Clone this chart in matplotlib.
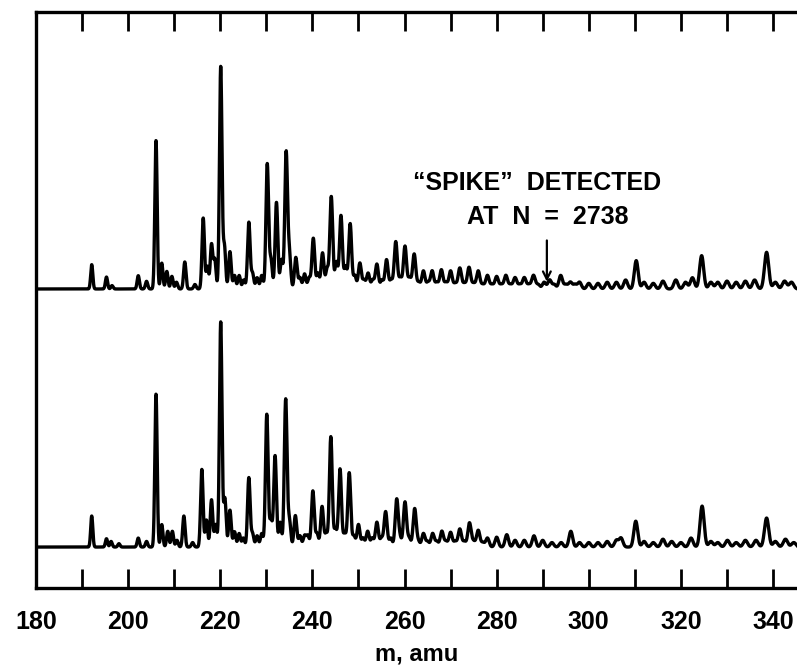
import matplotlib
matplotlib.use("Agg")
import matplotlib.pyplot as plt
import numpy as np

# peak positions (amu) and heights (percent of base peak)
top_mz = [192.1, 195.3, 196.5, 202.2, 204.0, 206.05, 207.3, 208.4, 209.5, 210.5,
          212.3, 214.5, 216.3, 217.2, 218.1, 218.8, 220.1, 220.9, 222.1, 223.1,
          224.1, 225.1, 226.2, 227.0, 228.0, 229.0, 230.2, 231.0, 232.2, 233.3,
          234.3, 235.0, 236.4, 237.3, 238.3, 239.3, 240.2, 241.2, 242.2, 243.2,
          244.1, 245.2, 246.2, 247.2, 248.2, 249.2, 250.3, 251.2, 252.1, 253.1,
          254.0, 255.1, 256.1, 257.1, 258.1, 259.1, 260.1, 261.1, 262.1, 263.1,
          264.1, 265.1, 266.0, 267.0, 268.0, 269.0, 270.0, 271.0, 272.0, 273.0,
          274.0, 275.0, 276.0, 277.0, 278.0, 279.0, 280.0, 281.0, 282.0, 283.0,
          284.0, 285.0, 286.0, 287.0, 288.0, 289.0, 290.3, 291.5, 292.5, 293.9,
          295.0, 296.0, 297.0, 298.0, 300.0, 302.0, 304.0, 306.0, 308.0, 310.3,
          312.0, 314.0, 316.1, 318.9, 321.0, 322.5, 324.5, 326.5, 328.0, 330.0,
          332.0, 334.0, 336.0, 338.6, 340.5, 342.5, 344.0]
top_int = [10.8, 5.3, 1.5, 5.9, 3.4, 66.0, 11.5, 7.8, 5.6, 3.0,
           12.0, 2.0, 31.5, 10.0, 19.7, 13.0, 98.7, 19.0, 16.6, 6.0,
           6.0, 4.0, 29.6, 7.0, 5.0, 6.0, 55.5, 13.0, 38.5, 13.0,
           60.4, 16.0, 14.0, 5.0, 6.7, 5.0, 22.5, 7.0, 16.0, 9.0,
           41.0, 12.0, 32.6, 10.0, 29.0, 6.0, 11.5, 4.0, 7.0, 4.0,
           11.0, 4.0, 13.0, 4.0, 21.0, 5.0, 19.0, 5.0, 15.5, 3.0,
           8.0, 3.0, 8.0, 3.0, 8.5, 3.0, 8.0, 2.5, 9.3, 2.5,
           9.6, 2.5, 8.0, 2.0, 6.0, 2.0, 5.5, 2.0, 6.0, 2.0,
           5.0, 2.0, 5.0, 2.0, 6.0, 2.0, 3.0, 4.0, 2.0, 6.0,
           2.0, 3.0, 2.0, 3.0, 2.5, 2.5, 3.0, 3.0, 4.0, 12.6,
           3.0, 2.5, 3.5, 4.0, 3.0, 5.0, 14.8, 3.0, 3.0, 3.5,
           3.0, 3.5, 4.0, 16.3, 3.0, 3.5, 3.0]

bottom_mz = [192.1, 195.3, 196.3, 198.0, 202.2, 204.0, 206.05, 207.3, 208.6, 209.6,
             210.6, 212.1, 214.0, 216.0, 217.0, 218.1, 219.0, 220.1, 221.0, 222.1,
             223.1, 224.1, 225.0, 226.2, 227.0, 228.0, 229.0, 230.1, 231.0, 231.9,
             233.0, 234.2, 235.0, 236.3, 237.3, 238.3, 239.0, 240.1, 241.0, 242.1,
             243.0, 244.0, 245.0, 246.0, 247.0, 248.0, 249.0, 250.0, 251.0, 252.0,
             253.0, 254.0, 255.0, 255.9, 257.0, 258.3, 259.0, 260.1, 261.0, 262.2,
             263.0, 264.1, 265.0, 266.1, 267.0, 268.1, 269.0, 270.0, 271.0, 272.0,
             273.0, 274.1, 275.0, 276.0, 277.0, 278.0, 280.0, 282.2, 284.0, 286.0,
             288.1, 290.0, 292.0, 294.0, 296.1, 298.0, 300.0, 302.0, 304.0, 306.0,
             307.0, 310.2, 312.0, 314.0, 316.1, 318.0, 320.0, 322.2, 324.6, 326.5,
             328.0, 330.1, 332.0, 334.0, 336.3, 338.6, 340.5, 342.7, 344.5]
bottom_int = [13.8, 3.7, 2.5, 1.5, 4.0, 2.5, 68.0, 10.0, 7.0, 7.0,
              3.0, 13.8, 2.0, 34.5, 12.0, 21.0, 10.0, 100.0, 21.6, 16.4,
              6.8, 6.0, 4.0, 30.8, 6.0, 5.0, 6.0, 59.0, 12.0, 40.6,
              11.0, 65.6, 12.0, 14.0, 5.0, 5.0, 5.0, 24.9, 6.0, 18.0,
              6.0, 49.0, 8.0, 34.7, 6.0, 33.0, 5.0, 10.0, 4.0, 7.0,
              4.0, 11.0, 4.0, 15.7, 4.0, 21.0, 4.0, 20.0, 4.0, 17.0,
              2.5, 6.0, 2.5, 6.0, 2.5, 7.0, 2.5, 6.5, 2.5, 8.0,
              2.5, 10.7, 2.5, 7.4, 2.0, 4.0, 4.4, 5.5, 3.0, 3.0,
              5.0, 3.0, 2.0, 2.0, 7.0, 2.0, 2.0, 2.0, 2.5, 3.0,
              4.0, 11.5, 2.5, 2.0, 3.5, 2.5, 2.0, 4.0, 18.2, 2.5,
              2.0, 3.0, 2.0, 3.0, 3.0, 12.9, 2.5, 3.5, 2.0]

top_offset = 114.7
spike_mz = 290.9
tick_labels = ["180", "200", "220", "240", "260", "280", "300", "320", "340"]


def trace(mz, inten, grid):
    y = np.zeros_like(grid)
    for m, h in zip(mz, inten):
        s = 0.24 + (m - 200) * 0.0016   # peaks broaden with mass
        y += h * np.exp(-0.5 * ((grid - m) / s) ** 2)
    return y


grid = np.linspace(180, 346, 6000)

fig = plt.figure(figsize=(7.97, 6.69), dpi=100)
ax = fig.add_axes([36 / 797, 81 / 669, 761 / 797, 576 / 669])

ax.plot(grid, trace(bottom_mz, bottom_int, grid), color="black", lw=2.4)
ax.plot(grid, trace(top_mz, top_int, grid) + top_offset, color="black", lw=2.4)

ax.set_xlim(180, 345.2)
ax.set_ylim(-18.2, 237.8)

for side in ["left", "top", "bottom"]:
    ax.spines[side].set_linewidth(2.4)
ax.spines["right"].set_visible(False)

ax.set_xticks([int(t) for t in tick_labels])
ax.set_xticklabels(tick_labels, fontfamily="Liberation Sans", fontweight="bold", fontsize=18)
ax.set_xticks(np.arange(190, 345, 20), minor=True)
ax.tick_params(axis="x", which="both", direction="in", top=True, bottom=True,
               length=14, width=2.0, pad=16)
ax.set_yticks([])

ax.set_xlabel("m, amu", fontfamily="Liberation Sans", fontweight="bold", fontsize=17, labelpad=6)

ax.text(288.7, 161.6, "\u201cSPIKE\u201d  DETECTED", ha="center", va="center",
        fontfamily="Liberation Sans", fontweight="bold", fontsize=18)
ax.text(291.1, 146.5, "AT  N  =  2738", ha="center", va="center",
        fontfamily="Liberation Sans", fontweight="bold", fontsize=18)
ax.annotate("", xy=(spike_mz, top_offset + 2.0), xytext=(spike_mz, 137.5),
            arrowprops=dict(arrowstyle="->", color="black", lw=1.6,
                            mutation_scale=14))

fig.savefig("out.png", dpi=100)
